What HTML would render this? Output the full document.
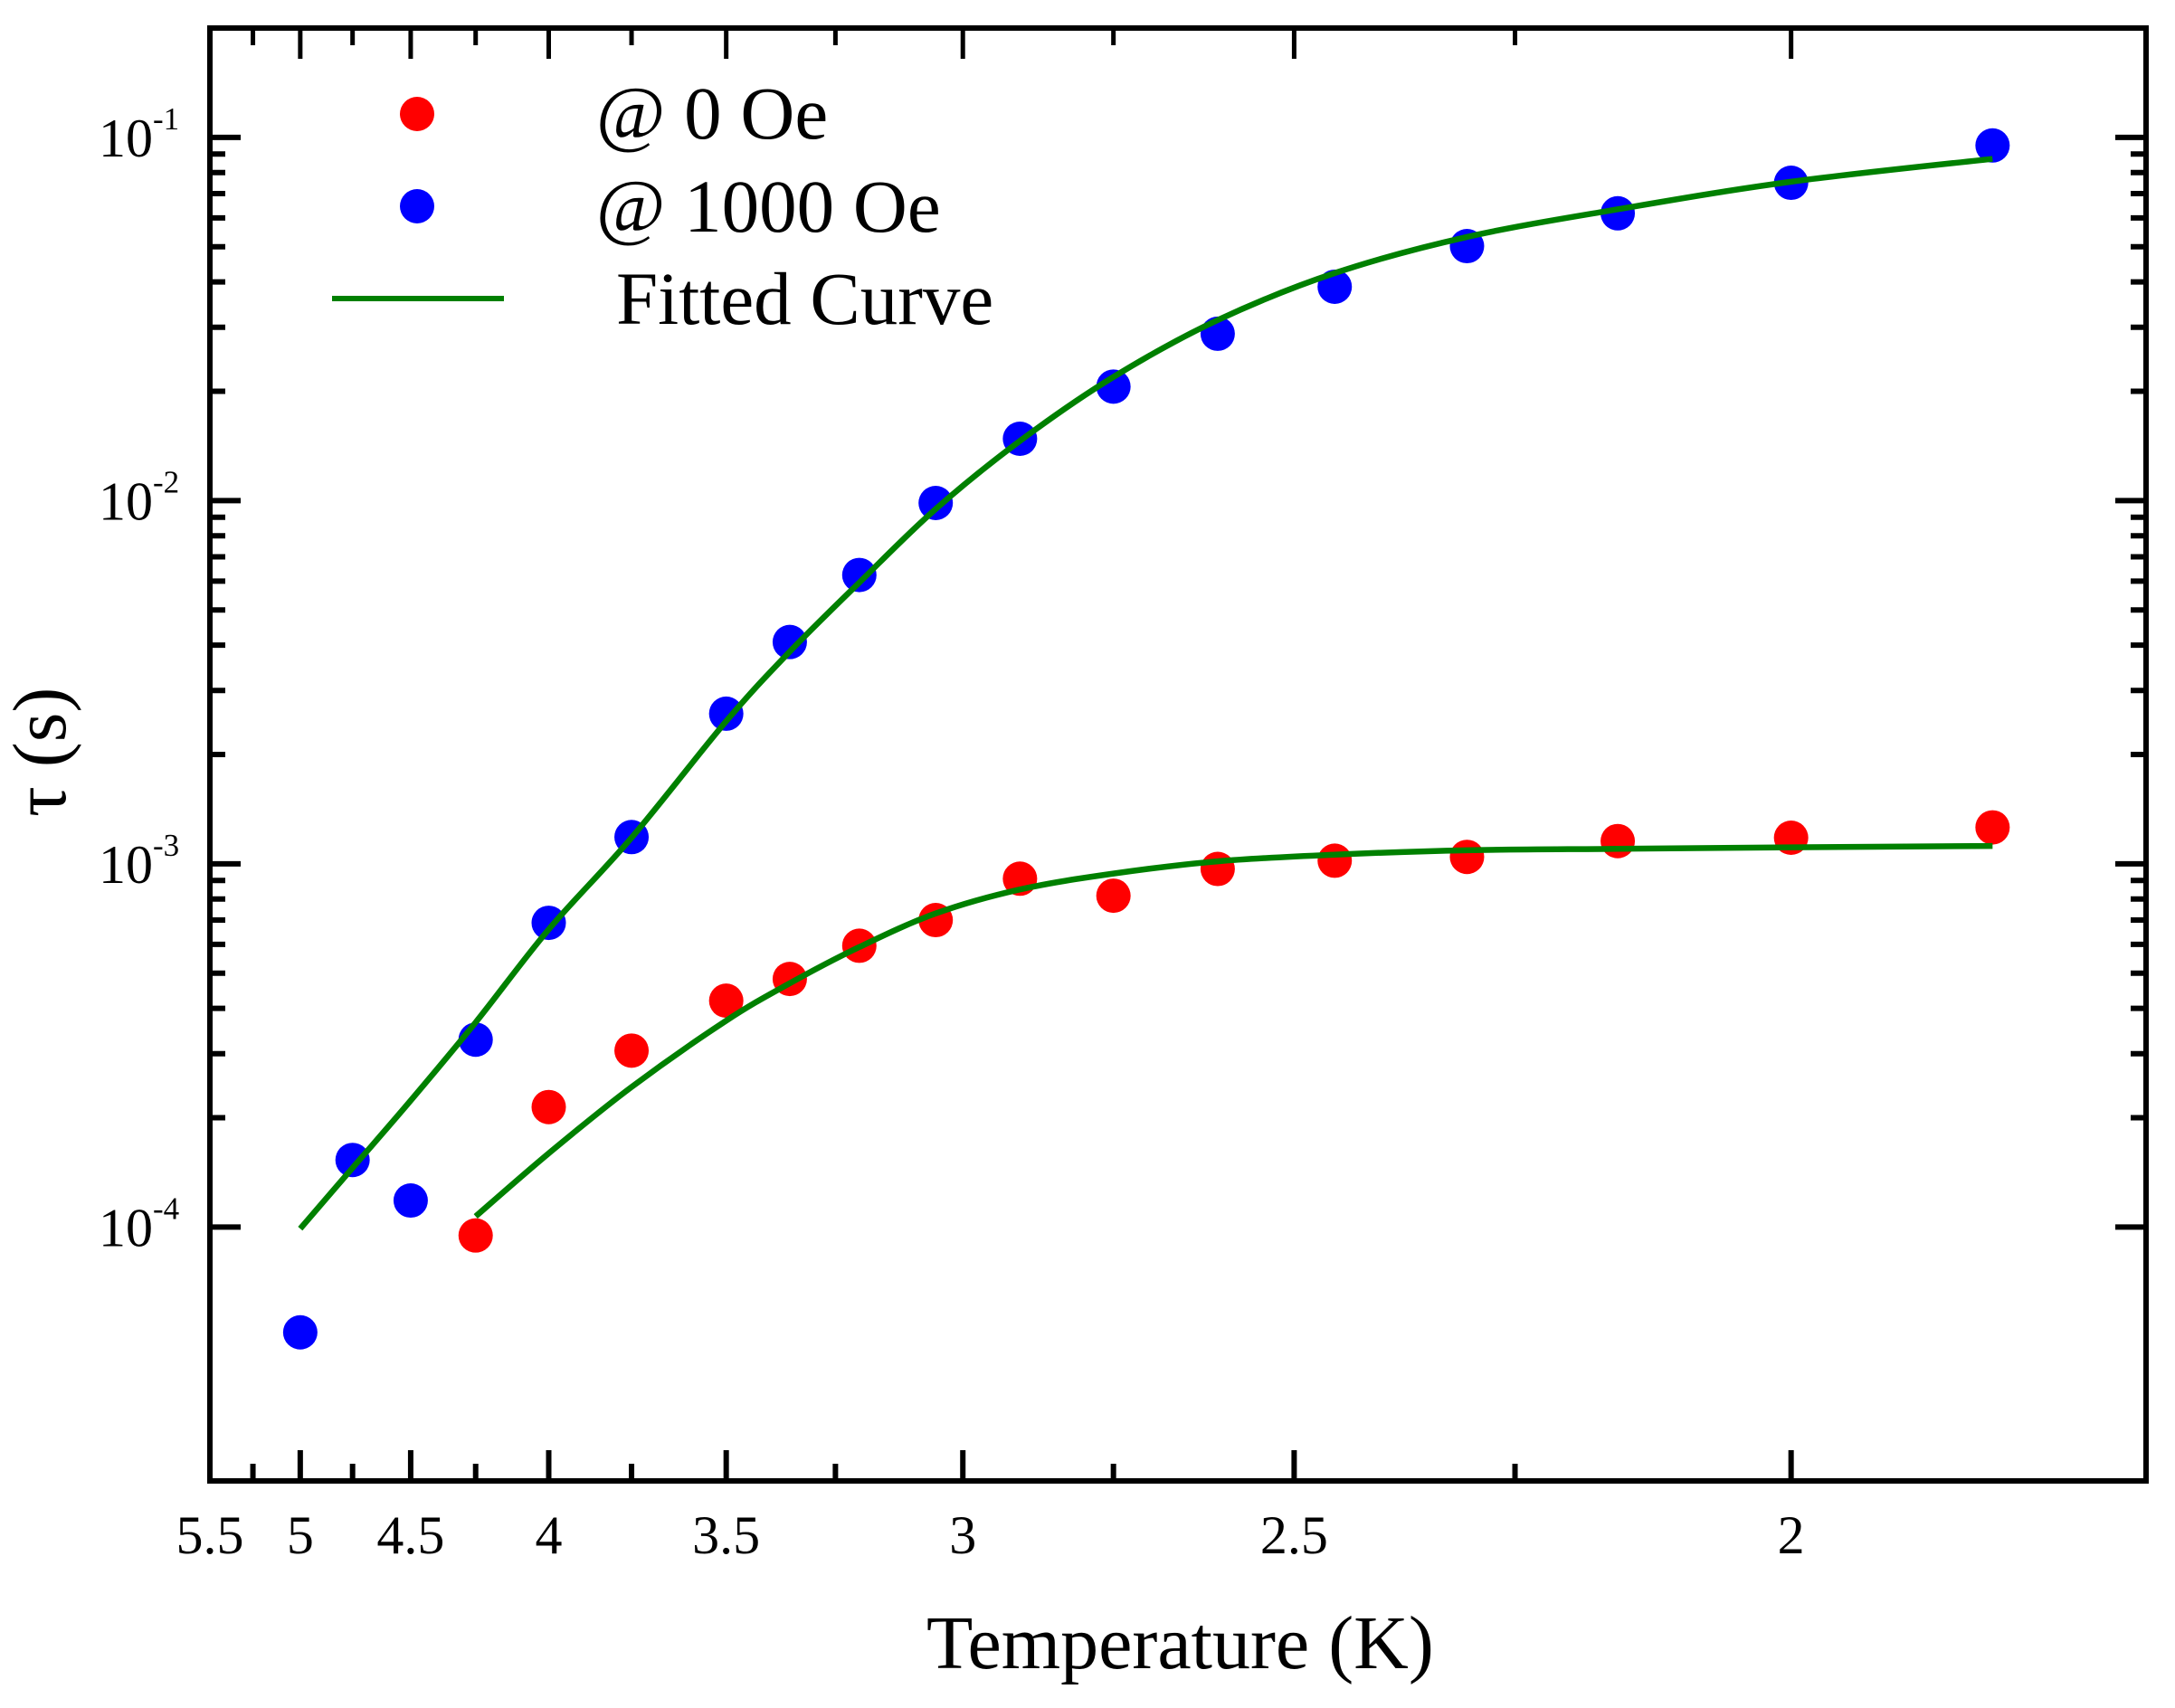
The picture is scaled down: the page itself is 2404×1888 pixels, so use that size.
<!DOCTYPE html>
<html lang="en">
<head>
<meta charset="utf-8">
<title>Relaxation time vs temperature</title>
<style>
html,body{margin:0;padding:0;background:#fff;}
svg{display:block;}
text{font-family:"Liberation Serif","DejaVu Serif",serif;fill:#000;}
</style>
</head>
<body>
<svg id="chart" xmlns="http://www.w3.org/2000/svg" width="2404" height="1888" viewBox="0 0 2404 1888">
  <rect x="0" y="0" width="2404" height="1888" fill="#ffffff"/>
  <g id="ticks"></g>
  <rect x="232" y="31" width="2140" height="1606" fill="none" stroke="#000" stroke-width="6"/>
  <g id="xlabels"></g>
  <g id="ylabels"></g>
  <g id="points-zero"></g>
  <g id="points-field"></g>
  <g id="fits"></g>
  <text x="1024" y="1844" font-size="84">Temperature (K)</text>
  <text transform="translate(72,903) rotate(-90)" font-size="84">τ (s)</text>
  <g>
    <circle cx="461" cy="126" r="19" fill="#ff0000"/>
    <text x="659" y="153" font-size="83">@ 0 Oe</text>
    <circle cx="461" cy="228" r="19" fill="#0000ff"/>
    <text x="659" y="256" font-size="83">@ 1000 Oe</text>
    <line x1="367" y1="330" x2="557" y2="330" stroke="#008000" stroke-width="6"/>
    <text x="681" y="358" font-size="83">Fitted Curve</text>
  </g>
</svg>
<script>
// Data
var temperatures = [5, 4.75, 4.5, 4.25, 4, 3.75, 3.5, 3.35, 3.2, 3.05, 2.9, 2.75, 2.6, 2.45, 2.3, 2.15, 2, 1.85];
var tauField = [5.13e-5, 1.53e-4, 1.183e-4, 3.28e-4, 6.88e-4, 1.185e-3, 2.59e-3, 4.08e-3, 6.24e-3, 9.85e-3, 0.0148, 0.0206, 0.0288, 0.0388, 0.0502, 0.0618, 0.075, 0.0950];
var zeroTemperatures = [4.25, 4, 3.75, 3.5, 3.35, 3.2, 3.05, 2.9, 2.75, 2.6, 2.45, 2.3, 2.15, 2, 1.85];
var tauZero = [9.48e-5, 2.14e-4, 3.06e-4, 4.2e-4, 4.82e-4, 5.95e-4, 7.0e-4, 9.1e-4, 8.17e-4, 9.68e-4, 1.02e-3, 1.045e-3, 1.155e-3, 1.18e-3, 1.26e-3];
var fitField = [9.9e-5, 1.455e-4, 2.23e-4, 3.66e-4, 6.6e-4, 1.18e-3, 2.47e-3, 3.84e-3, 5.95e-3, 9.48e-3, 0.0146, 0.0219, 0.0314, 0.0423, 0.0532, 0.0634, 0.0755, 0.0873];
var fitZero = [1.07e-4, 1.596e-4, 2.43e-4, 3.7e-4, 4.69e-4, 5.9e-4, 7.3e-4, 8.5e-4, 9.4e-4, 1.016e-3, 1.06e-3, 1.09e-3, 1.10e-3, 1.11e-3, 1.12e-3];
var xMajorTicks = [5, 4.5, 4, 3.5, 3, 2.5, 2];
var xMinorTicks = [5.25, 4.75, 4.25, 3.75, 3.25, 2.75, 2.25];
var xTickLabels = ["5.5", "5", "4.5", "4", "3.5", "3", "2.5", "2"];
var xTickLabelValues = [5.5, 5, 4.5, 4, 3.5, 3, 2.5, 2];
var yDecades = [-1, -2, -3, -4];
var yMinorMultipliers = [2, 3, 4, 5, 6, 7, 8, 9];
var yMinorDecades = [-4, -3, -2];

var NS = "http://www.w3.org/2000/svg";
var plot = {left: 232, right: 2372, top: 31, bottom: 1637};
var domain = {tMin: 5.5, tMax: 1.75, tauMin: 2e-5, tauMax: 0.2};

function xScale(t) {
  var a = 1 / domain.tMin, b = 1 / domain.tMax;
  return plot.left + (1 / t - a) / (b - a) * (plot.right - plot.left);
}
function yScale(v) {
  var a = Math.log10(domain.tauMax), b = Math.log10(domain.tauMin);
  return plot.top + (a - Math.log10(v)) / (a - b) * (plot.bottom - plot.top);
}
function addTick(parent, x1, y1, x2, y2, width) {
  var el = document.createElementNS(NS, "line");
  el.setAttribute("x1", x1);
  el.setAttribute("y1", y1);
  el.setAttribute("x2", x2);
  el.setAttribute("y2", y2);
  el.setAttribute("stroke", "#000");
  el.setAttribute("stroke-width", width);
  
  
  parent.appendChild(el);
}
function addDots(parent, ts, vs, color) {
  ts.forEach(function (t, i) {
    var c = document.createElementNS(NS, "circle");
    c.setAttribute("cx", xScale(t));
    c.setAttribute("cy", yScale(vs[i]));
    c.setAttribute("r", 19);
    c.setAttribute("fill", color);
    
    
    parent.appendChild(c);
  });
}
function addCurve(parent, ts, vs) {
  var p = ts.map(function (t, i) { return [xScale(t), yScale(vs[i])]; });
  var d = "M" + p[0][0] + " " + p[0][1];
  for (var i = 0; i < p.length - 1; i++) {
    var p0 = p[Math.max(i - 1, 0)], p1 = p[i], p2 = p[i + 1], p3 = p[Math.min(i + 2, p.length - 1)];
    d += " C" + (p1[0] + (p2[0] - p0[0]) / 6) + " " + (p1[1] + (p2[1] - p0[1]) / 6) + " " +
         (p2[0] - (p3[0] - p1[0]) / 6) + " " + (p2[1] - (p3[1] - p1[1]) / 6) + " " + p2[0] + " " + p2[1];
  }
  var el = document.createElementNS(NS, "path");
  el.setAttribute("d", d);
  el.setAttribute("fill", "none");
  el.setAttribute("stroke", "#008000");
  el.setAttribute("stroke-width", 6.5);
  
  
  parent.appendChild(el);
}

var ticks = document.getElementById("ticks");
xMajorTicks.forEach(function (t) {
  var x = xScale(t);
  addTick(ticks, x, plot.bottom, x, plot.bottom - 34, 6);
  addTick(ticks, x, plot.top, x, plot.top + 34, 5);
});
xMinorTicks.forEach(function (t) {
  var x = xScale(t);
  addTick(ticks, x, plot.bottom, x, plot.bottom - 19, 6);
  addTick(ticks, x, plot.top, x, plot.top + 19, 5);
});
yDecades.forEach(function (d) {
  var y = yScale(Math.pow(10, d));
  addTick(ticks, plot.left, y, plot.left + 34, y, 6);
  addTick(ticks, plot.right, y, plot.right - 34, y, 6);
});
yMinorDecades.forEach(function (d) {
  yMinorMultipliers.forEach(function (m) {
    var y = yScale(m * Math.pow(10, d));
    addTick(ticks, plot.left, y, plot.left + 17, y, 6);
    addTick(ticks, plot.right, y, plot.right - 17, y, 6);
  });
});

var xl = document.getElementById("xlabels");
xTickLabels.forEach(function (label, i) {
  var el = document.createElementNS(NS, "text");
  el.setAttribute("x", xScale(xTickLabelValues[i]));
  el.setAttribute("y", 1717);
  el.setAttribute("font-size", 60);
  el.setAttribute("text-anchor", "middle");
  
  
  el.textContent = label;
  xl.appendChild(el);
});

var yl = document.getElementById("ylabels");
yDecades.forEach(function (d) {
  var y = yScale(Math.pow(10, d));
  var el = document.createElementNS(NS, "text");
  el.setAttribute("x", 109);
  el.setAttribute("y", y + 21);
  el.setAttribute("font-size", 60);
  
  
  el.textContent = "10";
  var sup = document.createElementNS(NS, "tspan");
  sup.setAttribute("font-size", 35);
  sup.setAttribute("dy", -30);
  sup.textContent = String(d);
  el.appendChild(sup);
  yl.appendChild(el);
});

addDots(document.getElementById("points-zero"), zeroTemperatures, tauZero, "#ff0000");
addDots(document.getElementById("points-field"), temperatures, tauField, "#0000ff");
var fits = document.getElementById("fits");
addCurve(fits, temperatures, fitField);
addCurve(fits, zeroTemperatures, fitZero);
</script>
</body>
</html>
